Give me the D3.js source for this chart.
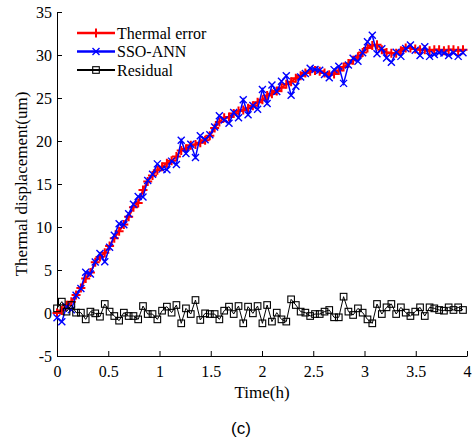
<!DOCTYPE html>
<html>
<head>
<meta charset="utf-8">
<script src="https://cdn.jsdelivr.net/npm/d3@7"></script>
<style>
  body { margin: 0; background: #fff; }
  svg { display: block; }
</style>
</head>
<body>
<div id="chart"></div>
<script>
// sampled time (h)
const time = [
  0.000, 0.047, 0.093, 0.140, 0.186, 0.233, 0.280, 0.326, 0.373, 0.419,
  0.466, 0.513, 0.559, 0.606, 0.652, 0.699, 0.746, 0.792, 0.839, 0.885,
  0.932, 0.979, 1.025, 1.072, 1.118, 1.165, 1.212, 1.258, 1.305, 1.351,
  1.398, 1.445, 1.491, 1.538, 1.584, 1.631, 1.678, 1.724, 1.771, 1.817,
  1.864, 1.911, 1.957, 2.004, 2.050, 2.097, 2.144, 2.190, 2.237, 2.284,
  2.330, 2.377, 2.423, 2.470, 2.517, 2.563, 2.610, 2.656, 2.703, 2.749,
  2.796, 2.843, 2.889, 2.936, 2.982, 3.029, 3.076, 3.122, 3.169, 3.215,
  3.262, 3.309, 3.355, 3.402, 3.448, 3.495, 3.542, 3.588, 3.635, 3.681,
  3.728, 3.775, 3.821, 3.868, 3.914, 3.961
];

const thermalError = [
  0.0, 0.3, 0.9, 1.3, 2.1, 2.9, 4.0, 4.7, 5.9, 6.5,
  7.0, 7.8, 8.7, 9.5, 10.3, 11.2, 12.3, 12.8, 14.3, 15.3,
  16.0, 16.6, 17.0, 17.4, 17.7, 18.2, 18.9, 19.1, 19.5, 19.6,
  19.8, 20.1, 20.6, 21.5, 22.2, 22.7, 22.8, 23.2, 23.5, 23.6,
  23.8, 24.1, 24.5, 24.8, 25.3, 25.5, 25.8, 26.2, 26.6, 26.9,
  27.3, 27.6, 27.9, 28.1, 28.2, 28.1, 27.9, 27.7, 27.8, 28.2,
  28.6, 29.0, 29.4, 29.8, 30.3, 30.8, 31.1, 31.2, 30.6, 30.3,
  30.2, 30.2, 30.5, 30.8, 30.8, 30.7, 30.6, 30.6, 30.5, 30.6,
  30.6, 30.5, 30.6, 30.6, 30.5, 30.6
];

const ssoAnn = [
  -0.54, -1.02, 0.74, 0.37, 2.06, 2.86, 4.74, 4.54, 5.94, 6.93,
  5.95, 7.64, 9.05, 10.39, 10.26, 11.55, 12.65, 13.54, 13.49, 15.42,
  16.12, 17.34, 16.73, 16.66, 17.66, 17.27, 20.10, 18.56, 19.62, 18.09,
  20.61, 20.14, 20.72, 21.62, 22.94, 22.43, 22.06, 23.32, 22.69, 24.80,
  23.06, 24.14, 23.69, 26.00, 24.37, 26.50, 25.76, 26.94, 27.60, 25.31,
  26.37, 27.44, 27.86, 28.45, 28.32, 28.22, 27.74, 27.35, 28.30, 28.70,
  26.70, 28.84, 29.63, 29.26, 30.26, 31.54, 32.30, 30.15, 30.72, 29.64,
  29.15, 30.32, 29.84, 30.76, 31.15, 30.54, 29.94, 30.95, 29.84, 30.06,
  30.25, 30.23, 29.94, 30.25, 29.84, 30.25
];

const residual = [
  0.54, 1.32, 0.16, 0.93, 0.04, 0.04, -0.74, 0.16, -0.04, -0.43,
  1.05, 0.16, -0.35, -0.89, 0.04, -0.35, -0.35, -0.74, 0.81, -0.12,
  -0.12, -0.74, 0.27, 0.74, 0.04, 0.93, -1.20, 0.54, -0.12, 1.51,
  -0.81, -0.04, -0.12, -0.12, -0.74, 0.27, 0.74, -0.12, 0.81, -1.20,
  0.74, -0.04, 0.81, -1.20, 0.93, -1.00, 0.04, -0.74, -1.00, 1.59,
  0.93, 0.16, 0.04, -0.35, -0.12, -0.12, 0.16, 0.35, -0.50, -0.50,
  1.90, 0.16, -0.23, 0.54, 0.04, -0.74, -1.20, 1.05, -0.12, 0.66,
  1.05, -0.12, 0.66, 0.04, -0.35, 0.16, 0.66, -0.35, 0.66, 0.54,
  0.35, 0.27, 0.66, 0.35, 0.66, 0.35
];

const xTicks = [0, 0.5, 1, 1.5, 2, 2.5, 3, 3.5, 4];
const yTicks = [-5, 0, 5, 10, 15, 20, 25, 30, 35];
const seriesNames = ["Thermal error", "SSO-ANN", "Residual"];

const W = 472, H = 443;
const margin = { top: 12, right: 5, bottom: 87, left: 57 };
const width = W - margin.left - margin.right,
      height = H - margin.top - margin.bottom;

const svg = d3.select("#chart").append("svg")
    .attr("width", W)
    .attr("height", H);

const g = svg.append("g")
    .attr("transform", `translate(${margin.left},${margin.top})`);

const x = d3.scaleLinear().domain([0, 4]).range([0, width]);
const y = d3.scaleLinear().domain([-5, 35]).range([height, 0]);

const serif = "'Liberation Serif', 'Times New Roman', serif";

// axes (ticks point inward, no box)
const xAxis = g.append("g")
    .attr("transform", `translate(0,${height})`)
    .call(d3.axisBottom(x).tickValues(xTicks).tickFormat(d3.format("")).tickSizeInner(-5).tickSizeOuter(0).tickPadding(10));
const yAxis = g.append("g")
    .call(d3.axisLeft(y).tickValues(yTicks).tickFormat(d => d).tickSizeInner(-5).tickSizeOuter(0).tickPadding(5));

[xAxis, yAxis].forEach(a => {
  a.selectAll("text").attr("font-family", serif).attr("font-size", 16).attr("fill", "#000");
  a.selectAll("line, path").attr("stroke", "#000").attr("stroke-width", 1);
});

// labels
svg.append("text")
    .attr("x", margin.left + width / 2)
    .attr("y", 398)
    .attr("text-anchor", "middle")
    .attr("font-family", serif)
    .attr("font-size", 17)
    .text("Time(h)");

svg.append("text")
    .attr("transform", `translate(27,${margin.top + height / 2}) rotate(-90)`)
    .attr("text-anchor", "middle")
    .attr("font-family", serif)
    .attr("font-size", 17)
    .text("Thermal displacement(um)");

svg.append("text")
    .attr("x", 241)
    .attr("y", 434)
    .attr("text-anchor", "middle")
    .attr("font-family", "'Liberation Sans', Arial, sans-serif")
    .attr("font-size", 17)
    .text("(c)");

const line = d3.line().x((d, i) => x(time[i])).y(d => y(d));

// marker painters
function plus(sel, s) {
  sel.append("path")
    .attr("d", `M${-s},0H${s}M0,${-s}V${s}`)
    .attr("stroke", "#f00").attr("stroke-width", 2).attr("fill", "none");
}
function cross(sel, s) {
  sel.append("path")
    .attr("d", `M${-s},${-s}L${s},${s}M${-s},${s}L${s},${-s}`)
    .attr("stroke", "#00f").attr("stroke-width", 1.4).attr("fill", "none");
}
function square(sel, s) {
  sel.append("rect")
    .attr("x", -s).attr("y", -s).attr("width", 2 * s).attr("height", 2 * s)
    .attr("stroke", "#000").attr("stroke-width", 1.1).attr("fill", "none");
}

function drawSeries(values, color, lw, marker, size) {
  g.append("path")
    .datum(values)
    .attr("d", line)
    .attr("fill", "none")
    .attr("stroke", color)
    .attr("stroke-width", lw);
  g.append("g").selectAll("g")
    .data(values)
    .join("g")
      .attr("transform", (d, i) => `translate(${x(time[i])},${y(d)})`)
      .each(function() { marker(d3.select(this), size); });
}

drawSeries(thermalError, "#f00", 2, plus, 4.5);
drawSeries(ssoAnn, "#00f", 1.5, cross, 3.5);
drawSeries(residual, "#000", 1, square, 3.3);

// legend
const legendRows = [
  { name: seriesNames[0], color: "#f00", lw: 2.5, marker: plus, size: 4.5 },
  { name: seriesNames[1], color: "#00f", lw: 2.5, marker: cross, size: 3.5 },
  { name: seriesNames[2], color: "#000", lw: 2, marker: square, size: 3.3 }
];
const legend = svg.append("g");
legendRows.forEach((r, i) => {
  const ly = 33 + i * 18.5;
  legend.append("line")
    .attr("x1", 77).attr("x2", 115).attr("y1", ly).attr("y2", ly)
    .attr("stroke", r.color).attr("stroke-width", r.lw);
  r.marker(legend.append("g").attr("transform", `translate(96,${ly})`), r.size);
  legend.append("text")
    .attr("x", 117).attr("y", ly + 5.5)
    .attr("font-family", serif)
    .attr("font-size", 16)
    .text(r.name);
});
</script>
</body>
</html>
